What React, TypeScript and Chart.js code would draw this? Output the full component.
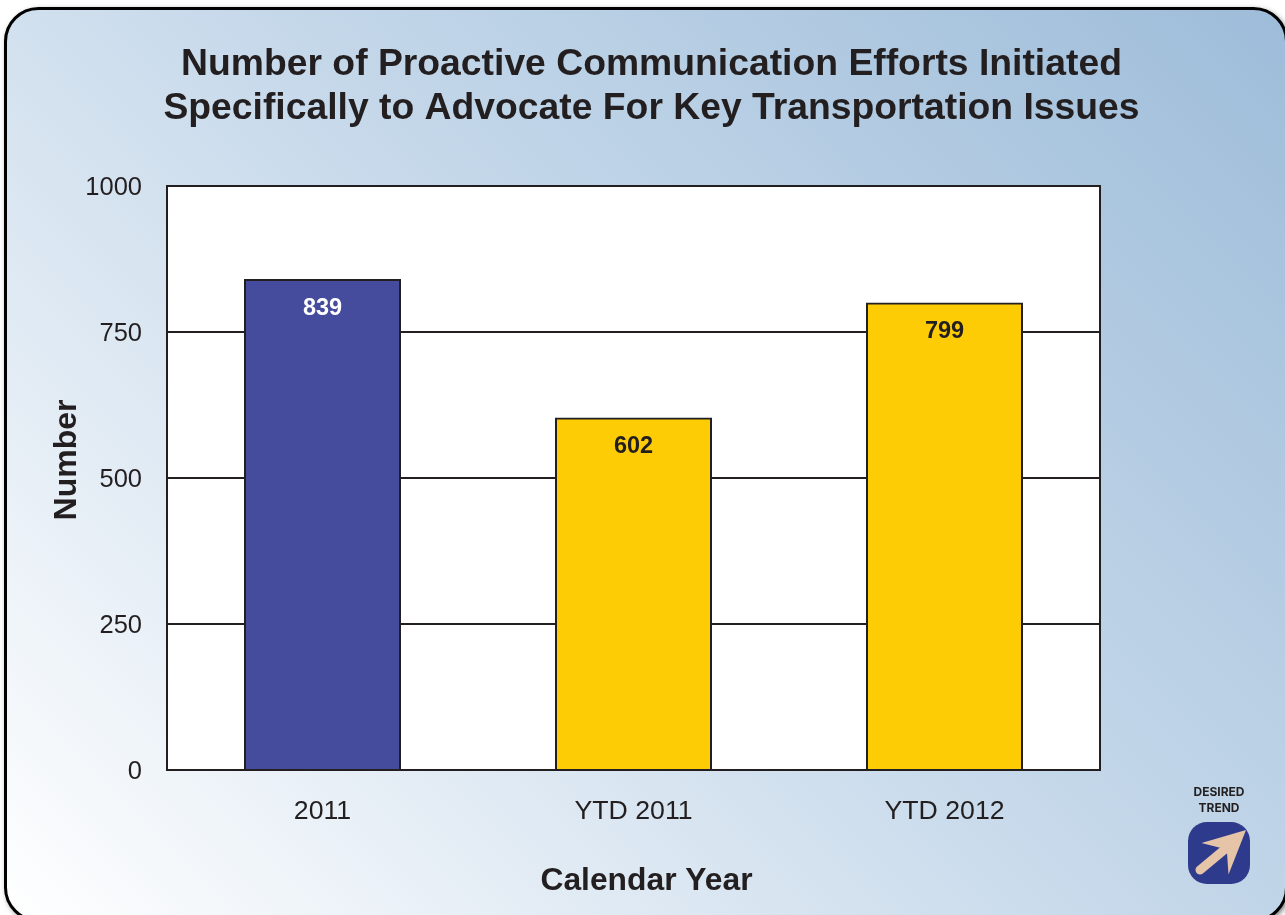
import React, { useEffect, useRef } from "react";
import { Chart, registerables } from "chart.js";

Chart.register(...registerables);

const categories = ["2011", "YTD 2011", "YTD 2012"];
const values = [839, 602, 799];
const barColors = ["#454c9e", "#fecc05", "#fecc05"];
const labelColors = ["#ffffff", "#231f20", "#231f20"];
const yTickValues = [0, 250, 500, 750, 1000];
const titleLines = [
  "Number of Proactive Communication Efforts Initiated",
  "Specifically to Advocate For Key Transportation Issues",
];
const xTitle = "Calendar Year";
const yTitle = "Number";
const trendLines = ["DESIRED", "TREND"];
const INK = "#231f20";
const FONT = "'Liberation Sans', Arial, sans-serif";

function roundRectPath(ctx: CanvasRenderingContext2D, x: number, y: number, w: number, h: number, r: number) {
  ctx.beginPath();
  ctx.roundRect(x, y, w, h, r);
}

const panelPlugin = {
  id: "panel",
  afterLayout(chart: any) {
    const xs = chart.scales.x;
    xs.left += 13;
    xs.right += 13;
    const ys = chart.scales.y;
    ys.top -= 18;
    ys.bottom -= 18;
    const t = chart.titleBlock;
    t.left += 93;
    t.right += 93;
  },
  beforeDraw(chart: any) {
    const ctx = chart.ctx as CanvasRenderingContext2D;
    const a = chart.chartArea;
    ctx.save();
    ctx.fillStyle = "#ffffff";
    ctx.fillRect(0, 0, chart.width, chart.height);
    const g = ctx.createLinearGradient(0, 915, 1100, -185);
    g.addColorStop(0, "#ffffff");
    g.addColorStop(0.5, "#c8daeb");
    g.addColorStop(1, "#9dbcd9");
    ctx.save();
    ctx.shadowColor = "rgba(0,0,0,0.7)";
    ctx.shadowBlur = 6;
    ctx.shadowOffsetX = 2;
    ctx.shadowOffsetY = 2;
    roundRectPath(ctx, 5.5, 8.5, 1281, 912, 33);
    ctx.fillStyle = "#fff";
    ctx.fill();
    ctx.restore();
    roundRectPath(ctx, 5.5, 8.5, 1281, 912, 33);
    ctx.fillStyle = g;
    ctx.fill();
    ctx.lineWidth = 3;
    ctx.strokeStyle = "#000";
    ctx.stroke();
    ctx.fillStyle = "#ffffff";
    ctx.fillRect(a.left, a.top, a.right - a.left, a.bottom - a.top);
    ctx.restore();
  },
  beforeDatasetsDraw(chart: any) {
    const ctx = chart.ctx as CanvasRenderingContext2D;
    const a = chart.chartArea;
    ctx.save();
    ctx.strokeStyle = INK;
    ctx.lineWidth = 2;
    ctx.strokeRect(a.left, a.top, a.right - a.left, a.bottom - a.top);
    ctx.restore();
  },
  afterDatasetsDraw(chart: any) {
    const ctx = chart.ctx as CanvasRenderingContext2D;
    const meta = chart.getDatasetMeta(0);
    ctx.save();
    ctx.font = `bold 23.5px ${FONT}`;
    ctx.textAlign = "center";
    ctx.textBaseline = "middle";
    meta.data.forEach((bar: any, i: number) => {
      ctx.fillStyle = labelColors[i];
      ctx.fillText(String(values[i]), bar.x, bar.y + 28);
    });
    ctx.restore();
  },
  afterDraw(chart: any) {
    const ctx = chart.ctx as CanvasRenderingContext2D;
    ctx.save();
    ctx.fillStyle = INK;
    ctx.font = "bold 12px Inter, 'Noto Sans', sans-serif";
    ctx.textAlign = "center";
    ctx.textBaseline = "middle";
    ctx.fillText(trendLines[0], 1219, 792);
    ctx.fillText(trendLines[1], 1219, 808);
    roundRectPath(ctx, 1188, 822, 62, 62, 19);
    ctx.fillStyle = "#2e3a8c";
    ctx.fill();
    ctx.strokeStyle = "#e5c4a8";
    ctx.lineWidth = 9;
    ctx.lineCap = "round";
    ctx.beginPath();
    ctx.moveTo(1200, 870);
    ctx.lineTo(1224, 850);
    ctx.stroke();
    ctx.fillStyle = "#e5c4a8";
    ctx.beginPath();
    ctx.moveTo(1246, 830);
    ctx.lineTo(1201.5, 843);
    ctx.lineTo(1221, 848);
    ctx.lineTo(1227, 853);
    ctx.lineTo(1228.5, 874.5);
    ctx.closePath();
    ctx.fill();
    ctx.restore();
  },
};

export default function App() {
  const ref = useRef<HTMLCanvasElement | null>(null);
  useEffect(() => {
    if (!ref.current) return;
    const chart = new Chart(ref.current, {
      type: "bar",
      plugins: [panelPlugin],
      data: {
        labels: categories,
        datasets: [
          {
            data: values,
            backgroundColor: barColors,
            borderColor: INK,
            borderWidth: 2,
            inflateAmount: 1,
            categoryPercentage: 1,
            barPercentage: 0.4984,
            clip: false,
          },
        ],
      },
      options: {
        animation: false,
        responsive: false,
        layout: { padding: { left: 17, right: 185, top: 0, bottom: 0 } },
        plugins: {
          legend: { display: false },
          tooltip: { enabled: false },
          title: {
            display: true,
            text: titleLines,
            color: INK,
            font: { family: FONT, size: 37.3, weight: "bold", lineHeight: 44 / 37.3 },
            padding: { top: 43, bottom: 55 },
          },
        },
        scales: {
          x: {
            afterFit(s: any) {
              s.height = 145;
            },
            grid: { display: false },
            border: { display: false },
            ticks: { color: INK, font: { family: FONT, size: 26.7 }, padding: 18, maxRotation: 0 },
            title: {
              display: true,
              text: xTitle,
              color: INK,
              font: { family: FONT, size: 31.8, weight: "bold" },
              padding: { top: 20, bottom: 15 },
            },
          },
          y: {
            min: 0,
            max: 1000,
            afterFit(s: any) {
              s.width = 150;
            },
            afterBuildTicks(s: any) {
              s.ticks = yTickValues.map((value) => ({ value }));
            },
            grid: { color: INK, lineWidth: 2, drawTicks: false },
            border: { display: false },
            ticks: {
              color: INK,
              font: { family: FONT, size: 25.5 },
              padding: 25,
              labelOffset: 1.5,
              callback: (v: number) => String(v),
            },
            title: {
              display: true,
              text: yTitle,
              color: INK,
              font: { family: FONT, size: 32, weight: "bold" },
              padding: { top: 31, bottom: 0 },
            },
          },
        },
      },
    } as any);
    return () => chart.destroy();
  }, []);
  return (
    <div style={{ position: "absolute", left: 0, top: 0, width: 1285, height: 915 }}>
      <canvas ref={ref} width={1285} height={915} style={{ display: "block" }} />
    </div>
  );
}
